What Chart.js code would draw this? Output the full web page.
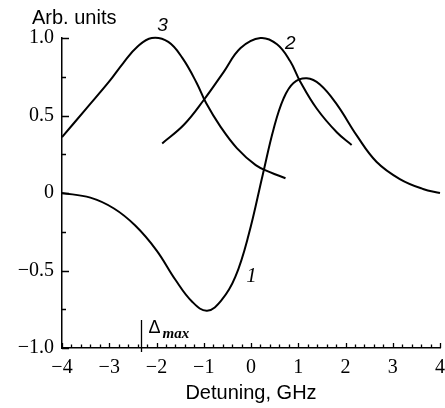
<!DOCTYPE html>
<html>
<head>
<meta charset="utf-8">
<script src="https://cdn.jsdelivr.net/npm/chart.js@4.4.0/dist/chart.umd.min.js"></script>
<style>
  body { margin: 0; background: #fff; }
  canvas { display: block; }
</style>
</head>
<body>
<canvas id="chartCanvas" width="445" height="408"></canvas>
<script>
// curve 1 (dispersion-like)
const c1X = [-4.0, -3.4, -2.9, -2.45, -2.0, -1.6, -1.25, -0.93, -0.62, -0.33, -0.05, 0.25, 0.48, 0.69, 0.9, 1.18, 1.46, 1.82, 2.24, 2.66, 3.15, 3.64, 4.0];
const c1Y = [0, -0.03, -0.10, -0.21, -0.37, -0.56, -0.70, -0.76, -0.69, -0.54, -0.27, 0.12, 0.415, 0.61, 0.71, 0.74, 0.70, 0.57, 0.37, 0.20, 0.09, 0.026, 0.0];
// curve 2
const c2X = [-1.88, -1.42, -1.0, -0.58, -0.22, 0.2, 0.55, 0.83, 1.04, 1.39, 1.82, 2.13];
const c2Y = [0.32, 0.44, 0.60, 0.78, 0.935, 1.0, 0.96, 0.85, 0.72, 0.545, 0.39, 0.31];
// curve 3
const c3X = [-4.0, -3.5, -3.0, -2.7, -2.4, -2.1, -1.75, -1.45, -1.15, -0.95, -0.65, -0.3, 0.1, 0.4, 0.73];
const c3Y = [0.36, 0.54, 0.72, 0.84, 0.945, 1.0, 0.975, 0.87, 0.71, 0.58, 0.43, 0.29, 0.18, 0.135, 0.095];

// curve numbers and where they sit
const curveNames = ['1', '2', '3'];
const nameX = [0.01, 0.83, -1.87];
const nameY = [-0.54, 0.96, 1.08];

// delta max marker
const deltaMax = -2.33;
const deltaTop = -0.82;

const xTicks = [-4, -3, -2, -1, 0, 1, 2, 3, 4];
const yTicks = [-1, -0.5, 0, 0.5, 1];

const toPoints = (xs, ys) => xs.map((x, i) => ({ x: x, y: ys[i] }));
const minus = v => String(v).replace('-', '\u2212');

const line = (data) => ({
    data: data,
    borderColor: '#000',
    borderWidth: 2,
    pointRadius: 0,
    fill: false,
    tension: 0.4,
    capBezierPoints: false,
    clip: 6
});

// inward ticks, curve numbers, titles, delta marker
const extras = {
    id: 'extras',
    afterDraw(chart) {
        const ctx = chart.ctx;
        const xs = chart.scales.x, ys = chart.scales.y;
        const left = chart.chartArea.left, bottom = chart.chartArea.bottom;
        ctx.save();
        ctx.strokeStyle = '#000';
        ctx.lineWidth = 1.3;
        ctx.beginPath();
        for (let i = 0; i <= 8; i++) {
            const v = -1 + i * 0.25;
            const py = Math.round(ys.getPixelForValue(v)) + 0.5;
            const len = i % 2 === 0 ? 7 : 4;
            ctx.moveTo(left, py);
            ctx.lineTo(left + len, py);
        }
        for (let i = 0; i <= 40; i++) {
            const v = -4 + i * 0.2;
            const px = Math.round(xs.getPixelForValue(v)) + 0.5;
            const len = i % 5 === 0 ? 5 : 3.5;
            ctx.moveTo(px, bottom);
            ctx.lineTo(px, bottom - len);
        }
        // delta max line
        const dx = Math.round(xs.getPixelForValue(deltaMax)) + 0.5;
        const dTop = ys.getPixelForValue(deltaTop);
        ctx.moveTo(dx, bottom + 4);
        ctx.lineTo(dx, dTop);
        ctx.stroke();

        ctx.fillStyle = '#000';
        ctx.textBaseline = 'alphabetic';
        ctx.textAlign = 'left';
        ctx.font = '18px "Liberation Sans"';
        ctx.fillText('\u0394', dx + 7, dTop + 13);
        ctx.font = 'italic bold 15px "Liberation Serif"';
        ctx.fillText('max', dx + 21, dTop + 18);

        ctx.font = '20px "Liberation Sans"';
        ctx.fillText('Arb. units', 32, 24);

        ctx.textAlign = 'center';
        ctx.textBaseline = 'middle';
        curveNames.forEach((n, i) => {
            ctx.font = n === '1' ? 'italic 21px "Liberation Serif"' : 'italic 19px "Liberation Sans"';
            ctx.fillText(n, xs.getPixelForValue(nameX[i]), ys.getPixelForValue(nameY[i]));
        });
        ctx.restore();
    }
};

new Chart(document.getElementById('chartCanvas').getContext('2d'), {
    type: 'line',
    data: {
        datasets: [
            line(toPoints(c1X, c1Y)),
            line(toPoints(c2X, c2Y)),
            line(toPoints(c3X, c3Y))
        ]
    },
    options: {
        responsive: false,
        animation: false,
        layout: { padding: { top: 38, right: 5, left: 0, bottom: 0 } },
        plugins: { legend: { display: false }, tooltip: { enabled: false } },
        scales: {
            x: {
                type: 'linear',
                min: -4,
                max: 4,
                afterFit: s => { s.height = 60; s.paddingRight = 0; s.paddingLeft = 0; },
                afterBuildTicks: s => { s.ticks = xTicks.map(v => ({ value: v })); },
                grid: { display: false, drawTicks: false },
                border: { display: true, color: '#000', width: 1.5 },
                ticks: {
                    padding: 8,
                    color: '#000',
                    font: { family: 'Liberation Serif', size: 20 },
                    callback: v => minus(v)
                },
                title: {
                    display: true,
                    text: 'Detuning, GHz',
                    color: '#000',
                    font: { family: 'Liberation Sans', size: 20 },
                    padding: { top: 0, bottom: 3 }
                }
            },
            y: {
                min: -1,
                max: 1,
                afterFit: s => { s.width = 62; },
                afterBuildTicks: s => { s.ticks = yTicks.map(v => ({ value: v })); },
                grid: { display: false, drawTicks: false },
                border: { display: true, color: '#000', width: 1.5 },
                ticks: {
                    padding: 8,
                    color: '#000',
                    font: { family: 'Liberation Serif', size: 20 },
                    callback: v => v === 0 ? '0' : minus(v.toFixed(1))
                }
            }
        }
    },
    plugins: [extras]
});
</script>
</body>
</html>
